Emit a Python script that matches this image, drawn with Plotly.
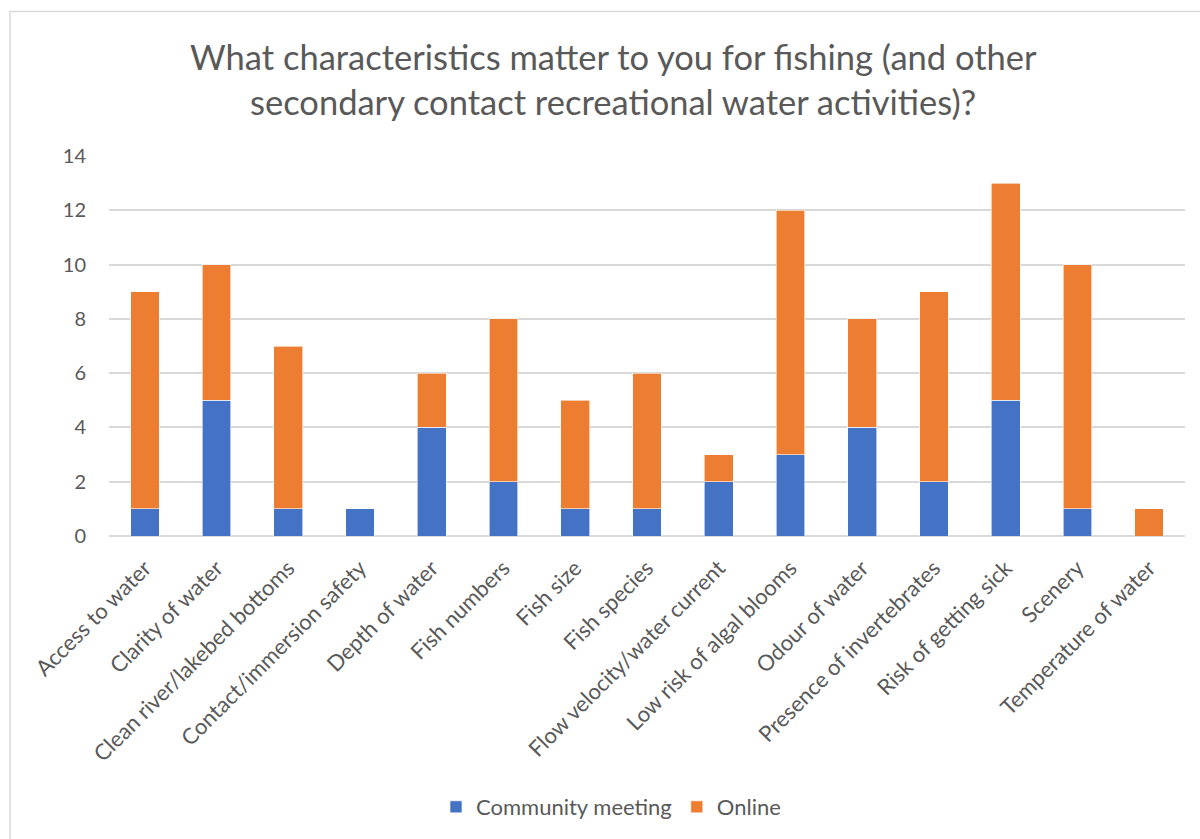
import plotly.graph_objects as go

categories = [
    "Access to water",
    "Clarity of water",
    "Clean river/lakebed bottoms",
    "Contact/immersion safety",
    "Depth of water",
    "Fish numbers",
    "Fish size",
    "Fish species",
    "Flow velocity/water current",
    "Low risk of algal blooms",
    "Odour of water",
    "Presence of invertebrates",
    "Risk of getting sick",
    "Scenery",
    "Temperature of water",
]
community_meeting = [1, 5, 1, 1, 4, 2, 1, 1, 2, 3, 4, 2, 5, 1, 0]
online = [8, 5, 6, 0, 2, 6, 4, 5, 1, 9, 4, 7, 8, 9, 1]
y_ticks = [0, 2, 4, 6, 8, 10, 12, 14]

FONT = "Lato"
GREY = "#595959"
GRID = "#d9d9d9"

W, H = 1200, 839
L, R, T, B = 109, 15, 156, 303
plot_w = W - L - R
plot_h = H - T - B


def px_x(px):
    return (px - L) / plot_w


def px_y(py):
    return (H - B - py) / plot_h


fig = go.Figure()
fig.add_trace(go.Bar(
    name="Community meeting", x=categories, y=community_meeting,
    marker=dict(color="#4472C4", line=dict(color="#ffffff", width=0.6)),
))
fig.add_trace(go.Bar(
    name="Online", x=categories, y=online,
    marker=dict(color="#ED7D31", line=dict(color="#ffffff", width=0.6)),
))

title_lines = [
    "What characteristics matter to you for fishing (and other",
    "secondary contact recreational water activities)?",
]
for line, cy in zip(title_lines, [57, 101]):
    fig.add_annotation(
        text=line, xref="paper", yref="paper",
        x=px_x(613), y=px_y(cy), xanchor="center", yanchor="middle",
        showarrow=False, font=dict(family=FONT, size=34.5, color=GREY),
    )

# chart frame
fig.add_shape(
    type="rect", xref="paper", yref="paper",
    x0=px_x(10), x1=px_x(1210), y0=px_y(850), y1=px_y(11.5),
    line=dict(color=GRID, width=1.5), fillcolor="rgba(0,0,0,0)",
    layer="below",
)

fig.update_layout(
    width=W, height=H,
    margin=dict(l=L, r=R, t=T, b=B, autoexpand=False),
    barmode="stack", bargap=0.6,
    plot_bgcolor="white", paper_bgcolor="white",
    font=dict(family=FONT, color=GREY, size=20),
    showlegend=True,
    legend=dict(
        orientation="h", x=px_x(611), y=px_y(807),
        xanchor="center", yanchor="middle",
        font=dict(family=FONT, size=22, color=GREY),
        itemwidth=30, traceorder="normal",
    ),
    xaxis=dict(
        tickangle=-45, showgrid=False, showline=False, zeroline=False,
        ticks="", ticklabelstandoff=14, automargin=False,
        tickfont=dict(family=FONT, size=22, color=GREY),
    ),
    yaxis=dict(
        range=[0, 14], tickvals=y_ticks, showgrid=True, gridcolor=GRID,
        gridwidth=1.5, zeroline=True, zerolinecolor=GRID, zerolinewidth=1.5,
        showline=False, ticks="", ticklabelstandoff=22, automargin=False,
        tickfont=dict(family=FONT, size=20, color=GREY),
    ),
)

fig.write_html("out.html")
